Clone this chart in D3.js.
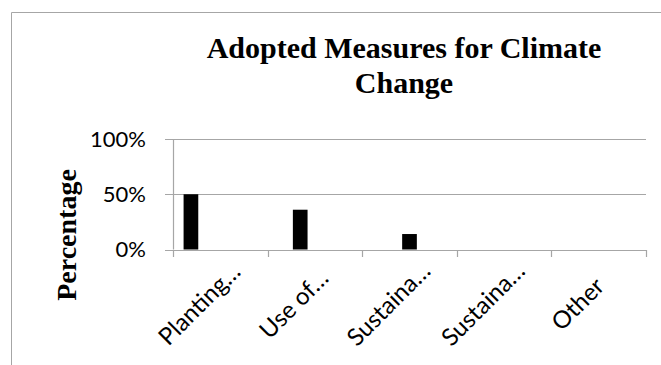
<!DOCTYPE html>
<html>
<head>
<meta charset="utf-8">
<script src="https://cdn.jsdelivr.net/npm/d3@7"></script>
<style>
  html, body { margin: 0; padding: 0; background: #fff; }
  svg { display: block; }
</style>
</head>
<body>
<svg id="chart" width="661" height="365"></svg>
<script>
// Category labels as shown on the axis (truncated by the original chart)
const categories = ["Planting\u2026", "Use of\u2026", "Sustaina\u2026", "Sustaina\u2026", "Other"];
// Share of respondents adopting each measure (%)
const values = [50, 36, 14, 0, 0];
// Y axis ticks
const yTicks = [0, 50, 100];

const titleLines = ["Adopted Measures for Climate", "Change"];
const yTitle = "Percentage";

const svg = d3.select("#chart");
const W = 661, H = 365;

// Chart area frame (only top and left edges visible in this crop)
svg.append("path")
  .attr("d", `M11.5,${H} V12.5 H${W}`)
  .attr("fill", "none")
  .attr("stroke", "#a6a6a6")
  .attr("stroke-width", 1);

const plot = { left: 173, right: 646, top: 139, bottom: 249.5 };

const x = d3.scaleBand()
  .domain(d3.range(categories.length))
  .range([plot.left, plot.right])
  .paddingInner(0).paddingOuter(0);

// Each category holds its own series slot, so bars step across the group
const xInner = d3.scaleBand()
  .domain(d3.range(categories.length))
  .range([0, x.bandwidth()])
  .paddingInner(0).paddingOuter(0.72);

const y = d3.scaleLinear()
  .domain([0, 100])
  .range([plot.bottom, plot.top]);

const labelFont = "Lato, 'Open Sans', sans-serif";
const serif = "'Liberation Serif', 'Times New Roman', serif";

// Horizontal gridlines, extended left as tick marks
svg.append("g")
  .selectAll("line")
  .data(yTicks)
  .join("line")
  .attr("x1", plot.left - 8)
  .attr("x2", plot.right)
  .attr("y1", d => Math.round(y(d)) + 0.5)
  .attr("y2", d => Math.round(y(d)) + 0.5)
  .attr("stroke", "#a6a6a6")
  .attr("stroke-width", 1.2);

// Y axis line
svg.append("line")
  .attr("x1", plot.left + 0.5).attr("x2", plot.left + 0.5)
  .attr("y1", plot.top).attr("y2", plot.bottom)
  .attr("stroke", "#a6a6a6").attr("stroke-width", 1.2);

// X axis tick marks at category boundaries
const bounds = d3.range(categories.length + 1).map(i =>
  i < categories.length ? x(i) : x(categories.length - 1) + x.bandwidth());
svg.append("g")
  .selectAll("line")
  .data(bounds)
  .join("line")
  .attr("x1", d => Math.round(d) + 0.5)
  .attr("x2", d => Math.round(d) + 0.5)
  .attr("y1", Math.round(plot.bottom))
  .attr("y2", Math.round(plot.bottom) + 7)
  .attr("stroke", "#a6a6a6").attr("stroke-width", 1.2);

// Bars
svg.append("g")
  .selectAll("rect")
  .data(values)
  .join("rect")
  .attr("x", (d, i) => x(i) + xInner(i))
  .attr("width", xInner.bandwidth())
  .attr("y", d => y(d))
  .attr("height", d => y(0) - y(d))
  .attr("fill", "#000");

// Y tick labels
svg.append("g")
  .selectAll("text")
  .data(yTicks)
  .join("text")
  .attr("x", 146)
  .attr("y", d => y(d))
  .attr("dy", "0.35em")
  .attr("text-anchor", "end")
  .attr("font-family", labelFont)
  .attr("font-size", 22)
  .attr("fill", "#000")
  .text(d => d + "%");

// Category labels, rotated and centred below each slot
svg.append("g")
  .selectAll("text")
  .data(categories)
  .join("text")
  .attr("transform", (d, i) =>
    `translate(${x(i) + x.bandwidth() / 2 - 21},304) rotate(-45)`)
  .attr("text-anchor", "middle")
  .attr("dy", "0.35em")
  .attr("font-family", labelFont)
  .attr("font-size", 24)
  .attr("fill", "#000")
  .text(d => d);

// Title
svg.append("text")
  .attr("text-anchor", "middle")
  .attr("font-family", serif)
  .attr("font-weight", "bold")
  .attr("font-size", 30)
  .attr("fill", "#000")
  .selectAll("tspan")
  .data(titleLines)
  .join("tspan")
  .attr("x", 404)
  .attr("y", (d, i) => 58 + i * 35)
  .text(d => d);

// Y axis title
svg.append("text")
  .attr("transform", "translate(76,235) rotate(-90)")
  .attr("text-anchor", "middle")
  .attr("font-family", serif)
  .attr("font-weight", "bold")
  .attr("font-size", 28)
  .attr("fill", "#000")
  .text(yTitle);
</script>
</body>
</html>
